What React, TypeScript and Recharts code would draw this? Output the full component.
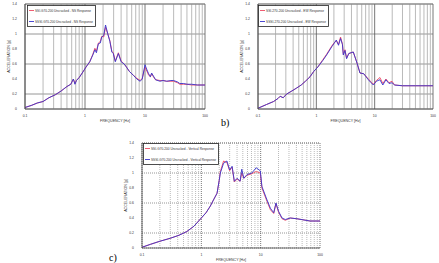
import React from 'react';
import { LineChart, Line, XAxis, YAxis, CartesianGrid, ReferenceLine, Legend, Label } from 'recharts';

// a) NS response
const nsFreq = [0.1, 0.13, 0.16, 0.2, 0.25, 0.32, 0.4, 0.5, 0.58, 0.64, 0.68, 0.72, 0.8, 0.9, 1.04, 1.2, 1.35, 1.46, 1.55, 1.67, 1.8, 1.9, 2.05, 2.2, 2.4, 2.6, 2.8, 2.96, 3.2, 3.6, 4.0, 4.5, 4.9, 5.5, 6.4, 7.3, 8.3, 9.0, 10, 10.8, 11.5, 12.3, 12.9, 13.8, 15, 17.8, 20, 23, 27, 30, 35, 38, 44, 50, 60, 75, 100];
const nsSsi = [0.02, 0.05, 0.08, 0.1, 0.15, 0.19, 0.24, 0.3, 0.33, 0.4, 0.34, 0.38, 0.42, 0.48, 0.56, 0.63, 0.73, 0.81, 0.77, 0.88, 0.9, 0.97, 0.96, 1.09, 1.0, 0.91, 0.77, 0.75, 0.64, 0.75, 0.64, 0.6, 0.56, 0.5, 0.45, 0.41, 0.38, 0.41, 0.56, 0.5, 0.45, 0.43, 0.47, 0.43, 0.39, 0.38, 0.38, 0.37, 0.37, 0.37, 0.35, 0.33, 0.33, 0.33, 0.32, 0.32, 0.32];
const nsSssi = [0.02, 0.05, 0.08, 0.1, 0.15, 0.19, 0.24, 0.3, 0.33, 0.4, 0.33, 0.38, 0.42, 0.48, 0.56, 0.63, 0.72, 0.79, 0.75, 0.87, 0.88, 0.96, 0.98, 1.12, 1.0, 0.9, 0.76, 0.74, 0.63, 0.74, 0.63, 0.6, 0.56, 0.5, 0.45, 0.4, 0.37, 0.4, 0.59, 0.52, 0.47, 0.43, 0.48, 0.44, 0.39, 0.37, 0.38, 0.37, 0.38, 0.38, 0.36, 0.34, 0.34, 0.33, 0.33, 0.32, 0.32];

// b) EW response
const ewFreq = [0.1, 0.14, 0.185, 0.22, 0.24, 0.27, 0.31, 0.38, 0.46, 0.55, 0.65, 0.78, 0.9, 1.06, 1.3, 1.5, 1.84, 2.0, 2.2, 2.4, 2.6, 2.8, 2.9, 3.1, 3.3, 3.6, 4.3, 5.0, 5.6, 6.5, 7.8, 8.7, 9.5, 10.7, 12.3, 13.8, 15.6, 17.6, 19.8, 22, 30, 50, 100];
const ewSsi = [0.01, 0.06, 0.1, 0.14, 0.17, 0.15, 0.2, 0.24, 0.28, 0.32, 0.37, 0.43, 0.5, 0.56, 0.66, 0.73, 0.84, 0.88, 0.91, 0.86, 0.96, 0.87, 0.73, 0.79, 0.68, 0.74, 0.76, 0.61, 0.48, 0.47, 0.4, 0.36, 0.33, 0.38, 0.42, 0.34, 0.4, 0.35, 0.37, 0.32, 0.31, 0.31, 0.31];
const ewSssi = [0.01, 0.06, 0.1, 0.14, 0.17, 0.15, 0.2, 0.24, 0.28, 0.32, 0.37, 0.43, 0.5, 0.56, 0.65, 0.72, 0.83, 0.87, 0.92, 0.85, 0.94, 0.86, 0.72, 0.78, 0.67, 0.74, 0.76, 0.61, 0.48, 0.47, 0.39, 0.35, 0.32, 0.37, 0.39, 0.32, 0.39, 0.34, 0.35, 0.32, 0.31, 0.31, 0.31];

// c) Vertical response
const vtFreq = [0.1, 0.14, 0.2, 0.3, 0.42, 0.57, 0.75, 1.0, 1.2, 1.42, 1.6, 1.84, 2.0, 2.09, 2.37, 2.7, 3.0, 3.3, 3.6, 4.0, 4.5, 4.8, 5.2, 5.9, 7.1, 8.4, 9.85, 10.5, 12.8, 14.6, 16.6, 18.1, 20, 22.9, 26, 31.5, 40.8, 68, 100];
const vtSsi = [0.01, 0.05, 0.09, 0.13, 0.17, 0.22, 0.29, 0.4, 0.47, 0.56, 0.64, 0.73, 0.9, 1.02, 1.16, 1.14, 1.03, 1.08, 0.88, 0.92, 0.89, 1.0, 0.93, 0.97, 0.99, 1.02, 1.0, 0.8, 0.62, 0.51, 0.46, 0.59, 0.48, 0.39, 0.37, 0.4, 0.39, 0.36, 0.36];
const vtSssi = [0.01, 0.05, 0.09, 0.13, 0.17, 0.22, 0.29, 0.4, 0.47, 0.56, 0.64, 0.73, 0.9, 1.0, 1.13, 1.16, 1.04, 1.09, 0.89, 0.93, 0.89, 1.05, 0.93, 0.98, 1.0, 1.07, 1.03, 0.82, 0.64, 0.53, 0.47, 0.6, 0.49, 0.4, 0.38, 0.4, 0.39, 0.36, 0.36];

const freqTicks = [0.1, 0.2, 0.3, 0.4, 0.5, 0.6, 0.7, 0.8, 0.9, 1, 2, 3, 4, 5, 6, 7, 8, 9, 10, 20, 30, 40, 50, 60, 70, 80, 90, 100];
const minorFreqs = freqTicks.filter(f => ![0.1, 1, 10, 100].includes(f));
const decades = [0.1, 1, 10, 100];
const accelTicks = [0, 0.2, 0.4, 0.6, 0.8, 1, 1.2, 1.4];

const RED = '#ee4a62';
const BLUE = '#3934cc';
const FONT = 'Liberation Sans, Arial, sans-serif';

type PanelProps = {
  left: number;
  top: number;
  width: number;
  height: number;
  margin: { top: number; right: number; bottom: number; left: number };
  freq: number[];
  ssi: number[];
  sssi: number[];
  names: [string, string];
  legendPos: { left: number; top: number; w: number; h: number };
  dotted?: boolean;
};

const Panel: React.FC<PanelProps> = ({ left, top, width, height, margin, freq, ssi, sssi, names, legendPos, dotted }) => {
  const data = freq.map((f, i) => ({ f, ssi: ssi[i], sssi: sssi[i] }));
  const dash = dotted ? '1 1' : undefined;

  const legendContent = () => (
    <svg width={legendPos.w} height={legendPos.h} style={{ display: 'block' }}>
      <rect x={0.5} y={0.5} width={legendPos.w - 1} height={legendPos.h - 1} fill="#fff" stroke="#222" strokeWidth={0.8} />
      {[RED, BLUE].map((c, i) => (
        <g key={c}>
          <line x1={2} x2={7} y1={5.5 + i * 11} y2={5.5 + i * 11} stroke={c} strokeWidth={0.9} />
          <text
            x={8}
            y={6.7 + i * 11}
            fontSize={3.3}
            fontFamily={FONT}
            fill="#333"
            textLength={legendPos.w - 11 - (i === 0 ? 2 : 0)}
            lengthAdjust="spacingAndGlyphs"
          >
            {names[i]}
          </text>
        </g>
      ))}
    </svg>
  );

  return (
    <div style={{ position: 'absolute', left, top }}>
      <LineChart width={width} height={height} data={data} margin={margin}>
        <CartesianGrid stroke="#7c7c7c" strokeWidth={0.8} vertical={false} strokeDasharray={dash} />
        {minorFreqs.map(f => (
          <ReferenceLine key={f} x={f} stroke="#a8a8a8" strokeWidth={0.8} strokeDasharray={dash} />
        ))}
        {decades.map(d => (
          <ReferenceLine key={d} x={d} stroke="#555" strokeWidth={0.8} strokeDasharray={dash} />
        ))}
        <ReferenceLine y={1.4} stroke="#777" strokeWidth={0.8} strokeDasharray={dash} />
        <XAxis
          dataKey="f"
          type="number"
          scale="log"
          domain={[0.1, 100]}
          ticks={freqTicks}
          tickFormatter={(v: number) => (decades.includes(v) ? String(v) : '')}
          tickLine={false}
          axisLine={{ stroke: '#444', strokeWidth: 0.8 }}
          tick={{ fontSize: 3.4, fill: '#333', fontFamily: FONT }}
          tickMargin={0}
          height={15}
          allowDataOverflow
        >
          <Label value="FREQUENCY [Hz]" position="insideBottom" offset={2} style={{ fontSize: 3.6, fill: '#333', fontFamily: FONT }} />
        </XAxis>
        <YAxis
          type="number"
          domain={[0, 1.4]}
          ticks={accelTicks}
          tickFormatter={(v: number) => String(v)}
          tickLine={false}
          axisLine={{ stroke: '#444', strokeWidth: 0.8 }}
          tick={{ fontSize: 3.4, fill: '#333', fontFamily: FONT }}
          tickMargin={2}
          width={18}
        >
          <Label value="ACCELERATION [g]" angle={-90} position="insideLeft" offset={2} style={{ fontSize: 3.6, fill: '#333', fontFamily: FONT, textAnchor: 'middle' }} />
        </YAxis>
        <Legend
          layout="horizontal"
          align="center"
          verticalAlign="middle"
          wrapperStyle={{ left: legendPos.left, top: legendPos.top, width: legendPos.w, height: legendPos.h }}
          content={legendContent}
        />
        <Line type="linear" dataKey="ssi" name={names[0]} stroke={RED} strokeWidth={0.9} dot={false} isAnimationActive={false} />
        <Line type="linear" dataKey="sssi" name={names[1]} stroke={BLUE} strokeWidth={0.9} dot={false} isAnimationActive={false} />
      </LineChart>
    </div>
  );
};

export default function App() {
  return (
    <div style={{ position: 'absolute', left: 0, top: 0, width: 439, height: 263, background: '#fff', overflow: 'hidden', fontFamily: 'Liberation Serif, serif' }}>
      <Panel
        left={0}
        top={0}
        width={215}
        height={124}
        margin={{ top: 4, right: 10, bottom: 0, left: 7 }}
        freq={nsFreq}
        ssi={nsSsi}
        sssi={nsSssi}
        names={['SSI-G70-200 Uncracked - NS Response', 'SSSI-G70-200 Uncracked - NS Response']}
        legendPos={{ left: 27, top: 5, w: 69, h: 22 }}
      />
      <Panel
        left={230}
        top={0}
        width={209}
        height={124}
        margin={{ top: 4, right: 6, bottom: 0, left: 10 }}
        freq={ewFreq}
        ssi={ewSsi}
        sssi={ewSssi}
        names={['SSI-270-200 Uncracked - EW Response', 'SSSI-270-200 Uncracked - EW Response']}
        legendPos={{ left: 28, top: 5, w: 71, h: 22 }}
      />
      <Panel
        left={115}
        top={139}
        width={215}
        height={124}
        margin={{ top: 4, right: 10, bottom: 0, left: 9 }}
        freq={vtFreq}
        ssi={vtSsi}
        sssi={vtSssi}
        names={['SSI-G70-200 Uncracked - Vertical Response', 'SSSI-G70-200 Uncracked - Vertical Response']}
        legendPos={{ left: 28, top: 4, w: 76, h: 22 }}
        dotted
      />
      <div style={{ position: 'absolute', left: 221, top: 117, fontSize: 10 }}>b)</div>
      <div style={{ position: 'absolute', left: 109, top: 252, fontSize: 10 }}>c)</div>
    </div>
  );
}
